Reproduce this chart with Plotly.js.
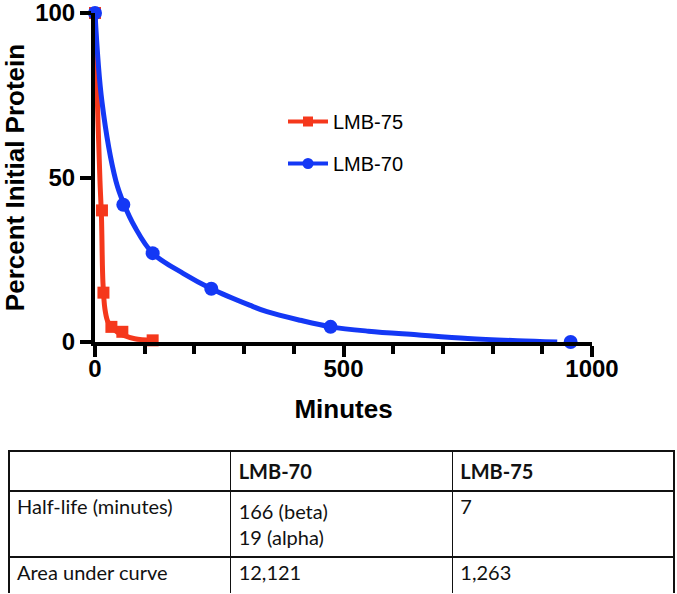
<!DOCTYPE html>
<html>
<head>
<meta charset="utf-8">
<script src="https://cdn.plot.ly/plotly-3.0.1.min.js"></script>
<style>
  html, body { margin: 0; padding: 0; background: #ffffff; }
  #chart { width: 677px; height: 594px; }
</style>
</head>
<body>
<div id="chart"></div>
<script>
// ---- measured data points ----
const minutes75 = [0, 14, 17, 33, 55, 116];
const percent75 = [100, 40, 15, 4.6, 3.1, 0.5];
const minutes70 = [0, 57, 116, 234, 474, 957];
const percent70 = [100, 41.7, 27, 16.2, 4.6, 0];

// ---- fitted curves ----
const fitMinutes75 = [0, 5, 10, 13, 16, 20, 25, 33, 45, 58, 80, 116];
const fitPercent75 = [100, 72, 49, 38, 18, 10, 6.5, 4.5, 3, 2, 1, 0.5];
const fitMinutes70 = [0, 14, 42, 58, 80, 116, 178, 234, 311, 346, 413, 475, 550, 647, 750, 850, 930];
const fitPercent70 = [100, 73, 49, 42, 35, 27, 20.8, 16.2, 11.2, 9.2, 6.6, 4.6, 3.3, 2.2, 1.1, 0.4, 0];

// ---- series labels / axis labels ----
const seriesNames = ['LMB-75', 'LMB-70'];
const xTickVals = [0, 500, 1000];
const yTickVals = [0, 50, 100];

// ---- table ----
const tableHeader = ['', 'LMB-70', 'LMB-75'];
const rowLabels = ['Half-life (minutes)', 'Area under curve'];
const lmb70Stats = ['166 (beta)<br>19 (alpha)', '12,121'];
const lmb75Stats = ['7', '1,263'];

const RED = '#f5381c';
const BLUE = '#1438f5';
const W = 677, H = 594;
const AX = 'Liberation Sans, Arial, Helvetica, sans-serif';
const TB = 'Lato, Carlito, Calibri, sans-serif';

const traces = [
  { x: fitMinutes75, y: fitPercent75, mode: 'lines', line: { color: RED, width: 5, shape: 'spline' },
    showlegend: false, hoverinfo: 'skip' },
  { x: minutes75, y: percent75, mode: 'markers', marker: { symbol: 'square', size: 12, color: RED },
    showlegend: false, cliponaxis: false },
  { x: fitMinutes70, y: fitPercent70, mode: 'lines', line: { color: BLUE, width: 5, shape: 'spline' },
    showlegend: false, hoverinfo: 'skip' },
  { x: minutes70, y: percent70, mode: 'markers', marker: { symbol: 'circle', size: 14, color: BLUE },
    showlegend: false, cliponaxis: false },
  // legend entries
  { x: [null], y: [null], mode: 'lines+markers', name: seriesNames[0], legendgroup: 'a',
    line: { color: RED, width: 4 }, marker: { symbol: 'square', size: 10, color: RED } },
  { x: [null], y: [null], mode: 'lines+markers', name: seriesNames[1], legendgroup: 'b',
    line: { color: BLUE, width: 4 }, marker: { symbol: 'circle', size: 11, color: BLUE } },
  // table
  { type: 'table',
    domain: { x: [9 / W, 674 / W], y: [0, 1 - 451 / H] },
    columnwidth: [1, 1, 1],
    header: {
      values: tableHeader.map(function (h) { return h ? '<b>' + h + '</b>' : ''; }),
      align: 'left', height: 38,
      line: { color: '#111111', width: 1.6 },
      fill: { color: '#ffffff' },
      font: { family: TB, size: 20, color: '#111111' }
    },
    cells: {
      values: [rowLabels, lmb70Stats, lmb75Stats],
      align: 'left', height: 39,
      line: { color: '#111111', width: 1.6 },
      fill: { color: '#ffffff' },
      font: { family: TB, size: 20, color: '#111111' }
    }
  }
];

const layout = {
  width: W, height: H,
  margin: { l: 0, r: 0, t: 0, b: 0 },
  paper_bgcolor: '#ffffff', plot_bgcolor: '#ffffff',
  showlegend: true,
  legend: {
    x: 283 / W, y: 1 - 102 / H, xanchor: 'left', yanchor: 'top',
    traceorder: 'grouped', tracegroupgap: 13, itemwidth: 40,
    font: { family: AX, size: 20, color: '#000000' },
    bgcolor: 'rgba(0,0,0,0)'
  },
  xaxis: {
    domain: [95 / W, 592 / W], range: [0, 1000],
    showline: true, linewidth: 4, linecolor: '#000000',
    ticks: 'outside', ticklen: 11, tickwidth: 4, tickcolor: '#000000',
    tickvals: xTickVals, ticklabeloverflow: 'allow', ticklabelstandoff: -9,
    minor: { dtick: 100, tick0: 0, ticks: 'outside', ticklen: 8, tickwidth: 4, tickcolor: '#000000', showgrid: false },
    showgrid: false, zeroline: false,
    tickfont: { family: AX, size: 24, weight: 'bold', color: '#000000' },
    title: { text: 'Minutes', font: { family: AX, size: 26, weight: 'bold', color: '#000000' }, standoff: 20 }
  },
  yaxis: {
    domain: [1 - 342 / H, 1 - 13 / H], range: [0, 100],
    showline: true, linewidth: 4, linecolor: '#000000',
    ticks: 'outside', ticklen: 11, tickwidth: 4, tickcolor: '#000000',
    tickvals: yTickVals, ticklabeloverflow: 'allow',
    showgrid: false, zeroline: false,
    tickfont: { family: AX, size: 24, weight: 'bold', color: '#000000' },
    title: { text: 'Percent Initial Protein', font: { family: AX, size: 26, weight: 'bold', color: '#000000' }, standoff: 12 }
  }
};

Plotly.newPlot('chart', traces, layout, { displayModeBar: false, staticPlot: true });
</script>
</body>
</html>
